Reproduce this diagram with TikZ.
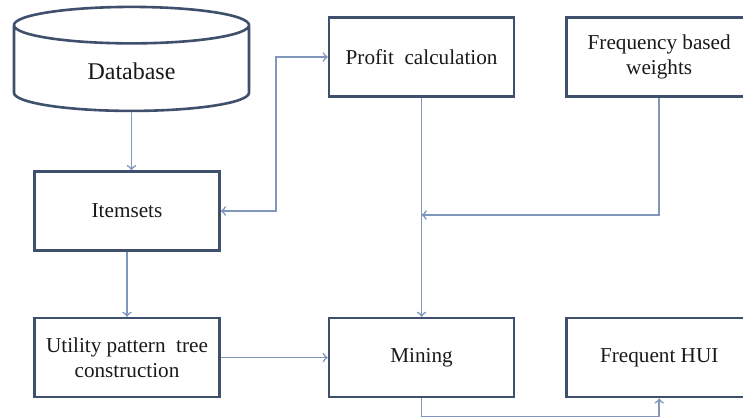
\documentclass[tikz,border=0pt]{standalone}
\usepackage{fontspec}
\setmainfont{Liberation Serif}
\usetikzlibrary{positioning,shapes.geometric}

\definecolor{boxline}{RGB}{62,80,108}
\definecolor{flowline}{RGB}{128,150,186}

\tikzset{
	box/.style={draw=boxline, line width=1.3pt, minimum width=92.5pt, minimum height=39.5pt,
		align=center, text=black!90, font=\fontsize{10.6}{12.5}\selectfont},
	dbcyl/.style={draw=boxline, line width=1.3pt, cylinder, shape border rotate=90, aspect=0.36,
		minimum width=117.5pt, minimum height=52pt, text=black!90, font=\fontsize{12}{14}\selectfont},
	flow/.style={draw=flowline, line width=0.8pt, ->},
}

\begin{document}
	\begin{tikzpicture}[x=0.5pt, y=-0.5pt]
		\useasboundingbox (0,0) rectangle (743,419);
		
			\node [box] (items) at (127,211) {Itemsets};
			\node [dbcyl, above=29pt of items, xshift=2.25pt] (db) {Database};
			\node [box, below=32.5pt of items] (utility) {Utility pattern\ \ tree\\construction};
			\node [box, right=53.5pt of utility] (mining) {Mining};
			\node [box, right=25pt of mining] (hui) {Frequent HUI};
			\node [box, above=109.5pt of mining] (profit) {Profit\ \ calculation};
			\node [box, right=25pt of profit] (weights) {Frequency based\\weights};
			\coordinate (join) at (profit.south |- 0,215);
			
			\draw [flow] (db.south) -- (db.south |- items.north);
			\draw [flow, <->] (items.east) -- ++(55,0) |- (profit.west);
			\draw [flow] (profit.south) -- (mining.north);
			\draw [flow] (weights.south) |- (join);
			\draw [flow] (items.south) -- (utility.north);
			\draw [flow] (utility.east) -- (mining.west);
			\draw [flow] (mining.south) -- ++(0,18) -| (hui.south);
	\end{tikzpicture}
\end{document}
